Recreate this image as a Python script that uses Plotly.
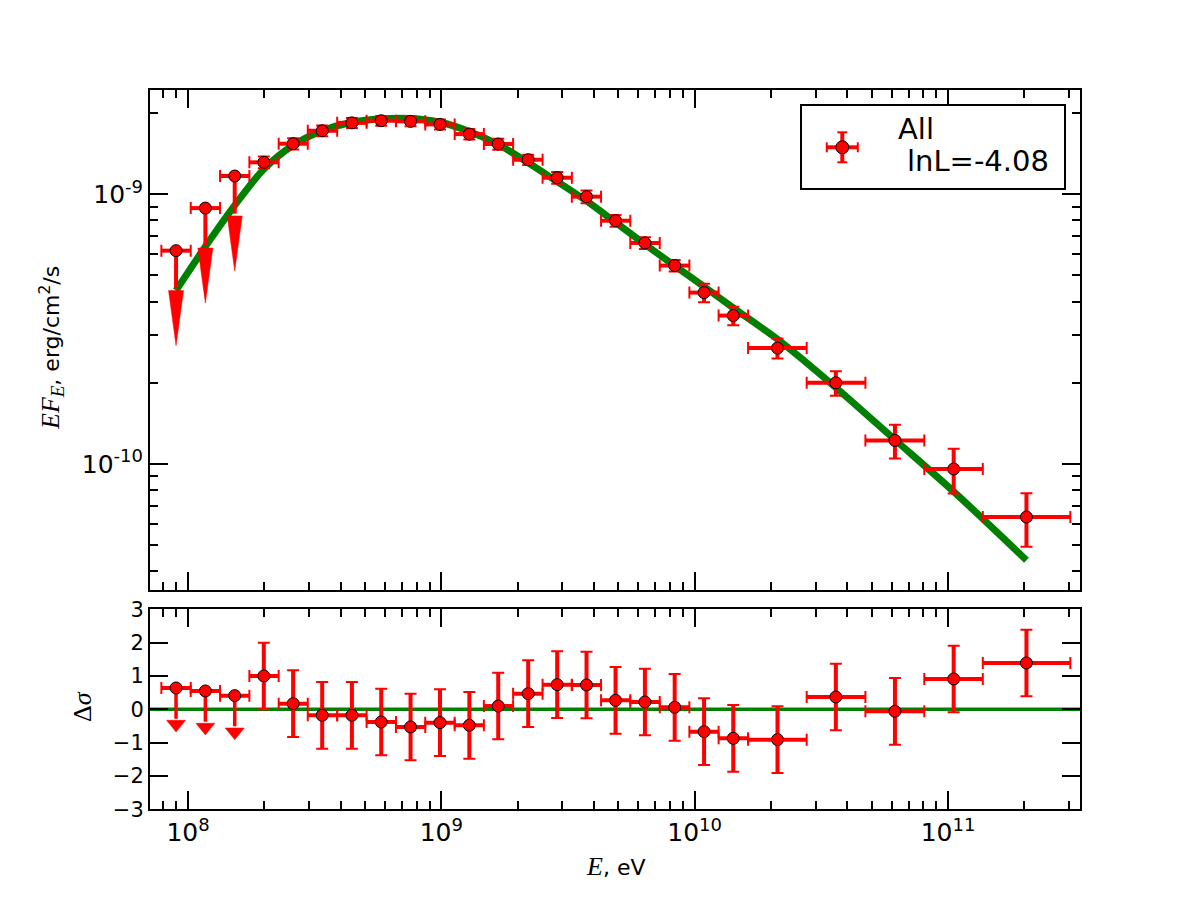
import plotly.graph_objects as go

# ---------------- data ----------------
E = [8.97e7, 1.171e8, 1.529e8, 1.992e8, 2.600e8, 3.386e8, 4.436e8, 5.790e8, 7.560e8, 9.88e8,
     1.290e9, 1.677e9, 2.202e9, 2.866e9, 3.742e9, 4.872e9, 6.362e9, 8.338e9, 1.089e10, 1.420e10,
     2.123e10, 3.608e10, 6.173e10, 1.053e11, 2.040e11]
BIN_EDGES = [7.85e7, 1.025e8, 1.338e8, 1.747e8, 2.28e8, 2.97e8, 3.88e8, 5.07e8, 6.62e8, 8.64e8,
             1.129e9, 1.472e9, 1.92e9, 2.51e9, 3.275e9, 4.27e9, 5.57e9, 7.28e9, 9.53e9, 1.243e10,
             1.625e10, 2.768e10, 4.72e10, 8.06e10, 1.372e11, 3.04e11]
FLUX = [6.18e-10, 8.89e-10, 1.169e-9, 1.314e-9, 1.54e-9, 1.72e-9, 1.84e-9, 1.874e-9, 1.864e-9, 1.816e-9,
        1.672e-9, 1.536e-9, 1.343e-9, 1.152e-9, 9.80e-10, 7.98e-10, 6.60e-10, 5.44e-10, 4.32e-10, 3.55e-10,
        2.69e-10, 2.00e-10, 1.223e-10, 9.58e-11, 6.36e-11]
FLUX_ERR = [0, 0, 0, 6.6e-11, 7.4e-11, 7.9e-11, 7.7e-11, 7.9e-11, 7.8e-11, 7.8e-11,
            7.5e-11, 7.2e-11, 5.8e-11, 5.8e-11, 5.4e-11, 4.0e-11, 3.3e-11, 2.7e-11, 3.4e-11, 2.8e-11,
            2.3e-11, 2.08e-11, 1.76e-11, 1.8e-11, 1.43e-11]
UPPER_LIMIT = [True, True, True] + [False] * 22
MODEL_F = [4.4e-10, 6.4e-10, 9.1e-10, 1.24e-9, 1.52e-9, 1.72e-9, 1.85e-9, 1.905e-9, 1.91e-9, 1.85e-9,
           1.71e-9, 1.53e-9, 1.31e-9, 1.115e-9, 9.45e-10, 7.87e-10, 6.53e-10, 5.43e-10, 4.55e-10, 3.79e-10,
           2.90e-10, 1.92e-10, 1.23e-10, 7.9e-11, 4.4e-11]
RES = [0.64, 0.55, 0.41, 1.0, 0.17, -0.18, -0.18, -0.38, -0.53, -0.40,
       -0.48, 0.10, 0.47, 0.74, 0.73, 0.27, 0.22, 0.06, -0.67, -0.87,
       -0.91, 0.37, -0.06, 0.91, 1.39]
RES_ERR = [1.0] * 25

X_TICKS = [1e8, 1e9, 1e10, 1e11]
X_EXP = ["8", "9", "10", "11"]
Y_TICKS = [1e-10, 1e-9]
Y_EXP = ["-10", "-9"]
RES_TICKS = [-3, -2, -1, 0, 1, 2, 3]
RES_TICK_TEXT = ["\u22123", "\u22122", "\u22121", "0", "1", "2", "3"]
LEGEND_LABEL = "All"
LEGEND_LNL = "lnL=-4.08"

# ---------------- style constants ----------------
RED = "#ff0000"
GREEN = "#008000"
TOP_ARROW_DEC = 0.352   # arrow length in decades (top panel)
TOP_HEAD_DEC = 0.204    # head height in decades
TOP_HEAD_HALF = 0.0296  # head half width in decades of E
BOT_ARROW = 1.32
BOT_HEAD = 0.35
BOT_HEAD_HALF = 0.0375

W, H = 1200, 900
def px(x):
    return x / W
def py(y):
    return 1 - y / H

def pow_label(e):
    return '10<sup><span style="font-size:18px">%s</span></sup>' % e

X_TICK_TEXT = [pow_label(e) for e in X_EXP]
Y_TICK_TEXT = [pow_label(e) for e in Y_EXP]

det = [i for i in range(len(E)) if not UPPER_LIMIT[i]]
ul = [i for i in range(len(E)) if UPPER_LIMIT[i]]
ex_plus = [BIN_EDGES[i + 1] - E[i] for i in range(len(E))]
ex_minus = [E[i] - BIN_EDGES[i] for i in range(len(E))]

fig = go.Figure()

def add_points(idx, yvals, yerr, xa, ya, with_y=True):
    xs = [E[i] for i in idx]
    ys = [yvals[i] for i in idx]
    exp = [ex_plus[i] for i in idx]
    exm = [ex_minus[i] for i in idx]
    ey = [yerr[i] for i in idx] if with_y else None
    kw_thick = dict(
        error_x=dict(type="data", symmetric=False, array=exp, arrayminus=exm,
                     color=RED, thickness=4, width=0),
    )
    kw_thin = dict(
        error_x=dict(type="data", symmetric=False, array=exp, arrayminus=exm,
                     color=RED, thickness=2, width=6),
    )
    if with_y:
        kw_thick["error_y"] = dict(type="data", array=ey, color=RED, thickness=4, width=0)
        kw_thin["error_y"] = dict(type="data", array=ey, color=RED, thickness=2, width=6)
    fig.add_trace(go.Scatter(x=xs, y=ys, mode="markers",
                             marker=dict(size=1, color="rgba(0,0,0,0)"),
                             xaxis=xa, yaxis=ya, showlegend=False, hoverinfo="skip", **kw_thick))
    return xs, ys, kw_thin

def add_markers(xs, ys, kw_thin, xa, ya):
    fig.add_trace(go.Scatter(x=xs, y=ys, mode="markers",
                             marker=dict(size=12, color=RED, line=dict(color="black", width=1)),
                             xaxis=xa, yaxis=ya, showlegend=False, **kw_thin))

# ---- top panel ----
fig.add_trace(go.Scatter(x=E, y=MODEL_F, mode="lines",
                         line=dict(color=GREEN, width=7, shape="spline", smoothing=0.8),
                         xaxis="x", yaxis="y", showlegend=False))

for i in ul:
    top = FLUX[i] * 10 ** (-(TOP_ARROW_DEC - TOP_HEAD_DEC))
    tip = FLUX[i] * 10 ** (-TOP_ARROW_DEC)
    fig.add_trace(go.Scatter(x=[E[i], E[i]], y=[FLUX[i], top * 1.02], mode="lines",
                             line=dict(color=RED, width=4), xaxis="x", yaxis="y",
                             showlegend=False, hoverinfo="skip"))
    fig.add_trace(go.Scatter(x=[E[i] * 10 ** (-TOP_HEAD_HALF), E[i] * 10 ** TOP_HEAD_HALF, E[i],
                                E[i] * 10 ** (-TOP_HEAD_HALF)],
                             y=[top, top, tip, top], mode="lines", fill="toself",
                             fillcolor=RED, line=dict(color=RED, width=0.5),
                             xaxis="x", yaxis="y", showlegend=False, hoverinfo="skip"))
xs, ys, kw = add_points(ul, FLUX, FLUX_ERR, "x", "y", with_y=False)
add_markers(xs, ys, kw, "x", "y")
xs, ys, kw = add_points(det, FLUX, FLUX_ERR, "x", "y", with_y=True)
add_markers(xs, ys, kw, "x", "y")

# ---- bottom panel ----
for i in ul:
    top = RES[i] - (BOT_ARROW - BOT_HEAD)
    tip = RES[i] - BOT_ARROW
    fig.add_trace(go.Scatter(x=[E[i], E[i]], y=[RES[i], top + 0.05], mode="lines",
                             line=dict(color=RED, width=3.5), xaxis="x2", yaxis="y2",
                             showlegend=False, hoverinfo="skip"))
    fig.add_trace(go.Scatter(x=[E[i] * 10 ** (-BOT_HEAD_HALF), E[i] * 10 ** BOT_HEAD_HALF, E[i],
                                E[i] * 10 ** (-BOT_HEAD_HALF)],
                             y=[top, top, tip, top], mode="lines", fill="toself",
                             fillcolor=RED, line=dict(color=RED, width=0.5),
                             xaxis="x2", yaxis="y2", showlegend=False, hoverinfo="skip"))
xs, ys, kw = add_points(ul, RES, RES_ERR, "x2", "y2", with_y=False)
add_markers(xs, ys, kw, "x2", "y2")
xs, ys, kw = add_points(det, RES, RES_ERR, "x2", "y2", with_y=True)
add_markers(xs, ys, kw, "x2", "y2")

# ---------------- axes ----------------
MINOR_X = [k * 10 ** n for n in range(7, 12) for k in range(2, 10)]
MINOR_Y = [k * 10 ** n for n in range(-11, -8) for k in range(2, 10)]
TICKFONT_LOG = dict(family="DejaVu Sans", size=25, color="black")
TICKFONT_LIN = dict(family="DejaVu Sans", size=21, color="black")

common = dict(showline=True, linecolor="black", linewidth=2, mirror="allticks",
              ticks="inside", ticklen=18, tickwidth=2, tickcolor="black",
              showgrid=False, zeroline=False)
minor_common = dict(ticks="inside", ticklen=8, tickwidth=1.5, tickcolor="black", showgrid=False)

XR = [7.85, 11.521]
fig.update_layout(
    width=W, height=H,
    margin=dict(l=0, r=0, t=0, b=0, autoexpand=False),
    paper_bgcolor="white", plot_bgcolor="white",
    showlegend=False,
    xaxis=dict(type="log", range=XR, domain=[0.125, 0.9], anchor="y", matches="x2",
               tickmode="array", tickvals=X_TICKS, ticktext=X_TICK_TEXT, showticklabels=False,
               minor=dict(tickmode="array", tickvals=MINOR_X, **minor_common), **common),
    yaxis=dict(type="log", range=[-10.4672, -8.6133], domain=[0.34444, 0.9], anchor="x",
               tickmode="array", tickvals=Y_TICKS, ticktext=Y_TICK_TEXT, tickfont=TICKFONT_LOG,
               minor=dict(tickmode="array", tickvals=MINOR_Y, **minor_common), **common),
    xaxis2=dict(type="log", range=XR, domain=[0.125, 0.9], anchor="y2",
                tickmode="array", tickvals=X_TICKS, ticktext=X_TICK_TEXT, tickfont=TICKFONT_LOG,
                minor=dict(tickmode="array", tickvals=MINOR_X, **minor_common), **common),
    yaxis2=dict(range=[-3, 3], domain=[0.10078, 0.323], anchor="x2",
                tickmode="array", tickvals=RES_TICKS, ticktext=RES_TICK_TEXT, tickfont=TICKFONT_LIN,
                **common),
)

fig.add_shape(type="line", xref="x2 domain", yref="y2", x0=0, x1=1, y0=0, y1=0,
              line=dict(color=GREEN, width=3.5), layer="below")

# ---------------- axis titles ----------------
SERIF = "font-family:Liberation Serif;font-size:26px"
fig.add_annotation(xref="paper", yref="paper", x=px(52), y=py(348), textangle=-90,
                   text='<span style="%s"><i>EF</i></span><sub><span style="%s"><i>E</i></span></sub>, erg/cm<sup>2</sup>/s'
                        % (SERIF, "font-family:Liberation Serif;font-size:19px"),
                   showarrow=False, font=dict(family="DejaVu Sans", size=22, color="black"),
                   xanchor="center", yanchor="middle")
fig.add_annotation(xref="paper", yref="paper", x=px(82), y=py(707), textangle=-90,
                   text='<span style="%s">\u0394<i>\u03c3</i></span>' % SERIF,
                   showarrow=False, font=dict(family="DejaVu Sans", size=24, color="black"),
                   xanchor="center", yanchor="middle")
fig.add_annotation(xref="paper", yref="paper", x=px(615), y=py(866),
                   text='<span style="%s"><i>E</i></span>, eV' % SERIF,
                   showarrow=False, font=dict(family="DejaVu Sans", size=22, color="black"),
                   xanchor="center", yanchor="middle")

# ---------------- legend (drawn manually) ----------------
fig.add_shape(type="rect", xref="paper", yref="paper", x0=px(801), x1=px(1065), y0=py(105), y1=py(189),
              line=dict(color="black", width=2), fillcolor="white")
LX, LY = 842.3, 147.3
fig.add_shape(type="line", xref="paper", yref="paper", x0=px(LX - 15.5), x1=px(LX + 15.5),
              y0=py(LY), y1=py(LY), line=dict(color=RED, width=4))
fig.add_shape(type="line", xref="paper", yref="paper", x0=px(LX), x1=px(LX),
              y0=py(LY - 15), y1=py(LY + 15), line=dict(color=RED, width=4))
for dx in (-15.5, 15.5):
    fig.add_shape(type="line", xref="paper", yref="paper", x0=px(LX + dx), x1=px(LX + dx),
                  y0=py(LY - 5), y1=py(LY + 5), line=dict(color=RED, width=2))
for dy in (-15, 15):
    fig.add_shape(type="line", xref="paper", yref="paper", x0=px(LX - 5), x1=px(LX + 5),
                  y0=py(LY + dy), y1=py(LY + dy), line=dict(color=RED, width=2))
fig.add_shape(type="circle", xref="paper", yref="paper", x0=px(LX - 6.5), x1=px(LX + 6.5),
              y0=py(LY - 6.5), y1=py(LY + 6.5), line=dict(color="black", width=1), fillcolor=RED)
fig.add_annotation(xref="paper", yref="paper", x=px(896), y=py(129), text=LEGEND_LABEL,
                   showarrow=False, font=dict(family="DejaVu Sans", size=29, color="black"),
                   xanchor="left", yanchor="middle")
fig.add_annotation(xref="paper", yref="paper", x=px(905), y=py(161), text=LEGEND_LNL,
                   showarrow=False, font=dict(family="DejaVu Sans", size=29, color="black"),
                   xanchor="left", yanchor="middle")

fig.write_html("out.html")
